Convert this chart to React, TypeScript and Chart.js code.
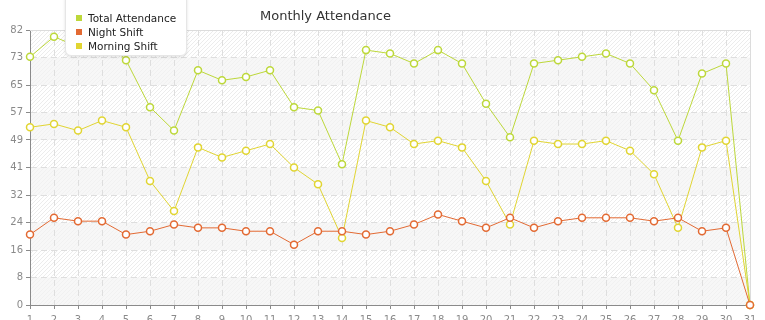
import React, { useEffect, useRef } from "react";
import { Chart, registerables } from "chart.js";

Chart.register(...registerables);

const days = ["1","2","3","4","5","6","7","8","9","10","11","12","13","14","15","16","17","18","19","20","21","22","23","24","25","26","27","28","29","30","31"];
const totalAttendance = [74, 80, 77, 80, 73, 59, 52, 70, 67, 68, 70, 59, 58, 42, 76, 75, 72, 76, 72, 60, 50, 72, 73, 74, 75, 72, 64, 49, 69, 72, 0];
const nightShift = [21, 26, 25, 25, 21, 22, 24, 23, 23, 22, 22, 18, 22, 22, 21, 22, 24, 27, 25, 23, 26, 23, 25, 26, 26, 26, 25, 26, 22, 23, 0];
const morningShift = [53, 54, 52, 55, 53, 37, 28, 47, 44, 46, 48, 41, 36, 20, 55, 53, 48, 49, 47, 37, 24, 49, 48, 48, 49, 46, 39, 23, 47, 49, 0];
const yTickValues = [0, 8.2, 16.4, 24.6, 32.8, 41, 49.2, 57.4, 65.6, 73.8, 82];
const yTickLabels = ["0", "8", "16", "24", "32", "41", "49", "57", "65", "73", "82"];

const seriesNames = ["Total Attendance", "Night Shift", "Morning Shift"];
const seriesColors = ["#bdd83a", "#e36a33", "#e1d532"];

const FONT = "'DejaVu Sans', sans-serif";

const bgPlugin = {
  id: "bgPlugin",
  beforeDraw(chart: any) {
    const { ctx, chartArea } = chart;
    const { left, top, right, bottom } = chartArea;
    const pc = document.createElement("canvas");
    pc.width = 4;
    pc.height = 4;
    const p = pc.getContext("2d")!;
    p.fillStyle = "#ffffff";
    p.fillRect(0, 0, 4, 4);
    p.strokeStyle = "#ececec";
    p.lineWidth = 1;
    p.beginPath();
    p.moveTo(0, 4);
    p.lineTo(4, 0);
    p.moveTo(-1, 1);
    p.lineTo(1, -1);
    p.moveTo(3, 5);
    p.lineTo(5, 3);
    p.stroke();
    const pattern = ctx.createPattern(pc, "repeat");
    ctx.save();
    ctx.fillStyle = pattern;
    ctx.fillRect(left, top, right - left, bottom - top);
    const y = chart.scales.y;
    ctx.fillStyle = "rgba(244,244,244,0.7)";
    for (let i = 0; i < yTickValues.length - 1; i += 2) {
      const y0 = y.getPixelForValue(yTickValues[i]);
      const y1 = y.getPixelForValue(yTickValues[i + 1]);
      ctx.fillRect(left, y1, right - left, y0 - y1);
    }
    ctx.restore();
  },
  beforeDatasetsDraw(chart: any) {
    const { ctx, chartArea } = chart;
    const { left, top, right, bottom } = chartArea;
    ctx.save();
    ctx.strokeStyle = "#dcdcdc";
    ctx.lineWidth = 1;
    ctx.beginPath();
    ctx.moveTo(left, Math.round(top) + 0.5);
    ctx.lineTo(right + 1, Math.round(top) + 0.5);
    ctx.moveTo(Math.round(right) + 0.5, top);
    ctx.lineTo(Math.round(right) + 0.5, bottom);
    ctx.stroke();
    ctx.restore();
  },
};

export default function App() {
  const canvasRef = useRef<HTMLCanvasElement>(null);

  useEffect(() => {
    document.body.style.margin = "0";
    const ctx = canvasRef.current!.getContext("2d")!;
    const data = [totalAttendance, nightShift, morningShift];
    const orders = [3, 1, 2];
    const chart = new Chart(ctx, {
      type: "line",
      data: {
        labels: days,
        datasets: data.map((d, i) => ({
          label: seriesNames[i],
          data: d,
          borderColor: seriesColors[i],
          backgroundColor: "#ffffff",
          pointBackgroundColor: "#ffffff",
          pointBorderColor: seriesColors[i],
          pointRadius: 3.5,
          pointBorderWidth: 1.5,
          borderWidth: 1,
          tension: 0,
          fill: false,
          clip: false as any,
          order: orders[i],
        })),
      },
      options: {
        animation: false,
        responsive: false,
        maintainAspectRatio: false,
        layout: { padding: { top: 30, right: 15, left: 0, bottom: 0 } },
        plugins: {
          legend: { display: false },
          title: { display: false },
          tooltip: { enabled: false },
        },
        scales: {
          x: {
            type: "category",
            offset: false,
            grid: {
              display: true,
              color: "#dedede",
              lineWidth: 1,
              drawTicks: true,
              tickLength: 4,
              tickColor: "#8a8a8a",
            },
            border: { display: true, color: "#8a8a8a", width: 1, dash: [6, 4] },
            ticks: {
              color: "#8a8a8a",
              font: { family: FONT, size: 10 },
              padding: 5,
              maxRotation: 0,
              autoSkip: false,
            },
            afterFit(scale: any) {
              scale.height = 15;
            },
          },
          y: {
            type: "linear",
            min: 0,
            max: 82,
            grid: {
              display: true,
              color: "#dedede",
              lineWidth: 1,
              drawTicks: true,
              tickLength: 4,
              tickColor: "#8a8a8a",
            },
            border: { display: true, color: "#8a8a8a", width: 1, dash: [6, 4] },
            afterBuildTicks(scale: any) {
              scale.ticks = yTickValues.map((v) => ({ value: v }));
            },
            ticks: {
              color: "#8a8a8a",
              font: { family: FONT, size: 10 },
              padding: 3,
              callback: (_v: any, idx: number) => yTickLabels[idx],
            },
            afterFit(scale: any) {
              scale.width = 30;
            },
          },
        },
      },
      plugins: [bgPlugin],
    });
    return () => chart.destroy();
  }, []);

  return (
    <div style={{ position: "fixed", left: 0, top: 0, width: 765, height: 320, background: "#ffffff", overflow: "hidden" }}>
      <canvas ref={canvasRef} width={765} height={320} style={{ position: "absolute", left: 0, top: 0 }} />
      <div
        style={{
          position: "absolute",
          left: 260,
          top: 8,
          fontFamily: FONT,
          fontSize: 13,
          color: "#333333",
          whiteSpace: "nowrap",
          lineHeight: "16px",
        }}
      >
        Monthly Attendance
      </div>
      <div
        style={{
          position: "absolute",
          left: 65,
          top: -8,
          width: 122,
          height: 64,
          background: "#ffffff",
          border: "1px solid #e6e6e6",
          borderRadius: 6,
          boxShadow: "0 1px 3px rgba(0,0,0,0.12)",
          boxSizing: "border-box",
        }}
      >
        {seriesNames.map((name, i) => (
          <div
            key={name}
            style={{
              position: "absolute",
              left: 10,
              top: 18 + i * 14,
              height: 14,
              display: "flex",
              alignItems: "center",
              fontFamily: FONT,
              fontSize: 10.5,
              color: "#222222",
              whiteSpace: "nowrap",
            }}
          >
            <span style={{ display: "inline-block", width: 6, height: 6, background: seriesColors[i], marginRight: 6 }} />
            {name}
          </div>
        ))}
      </div>
    </div>
  );
}
